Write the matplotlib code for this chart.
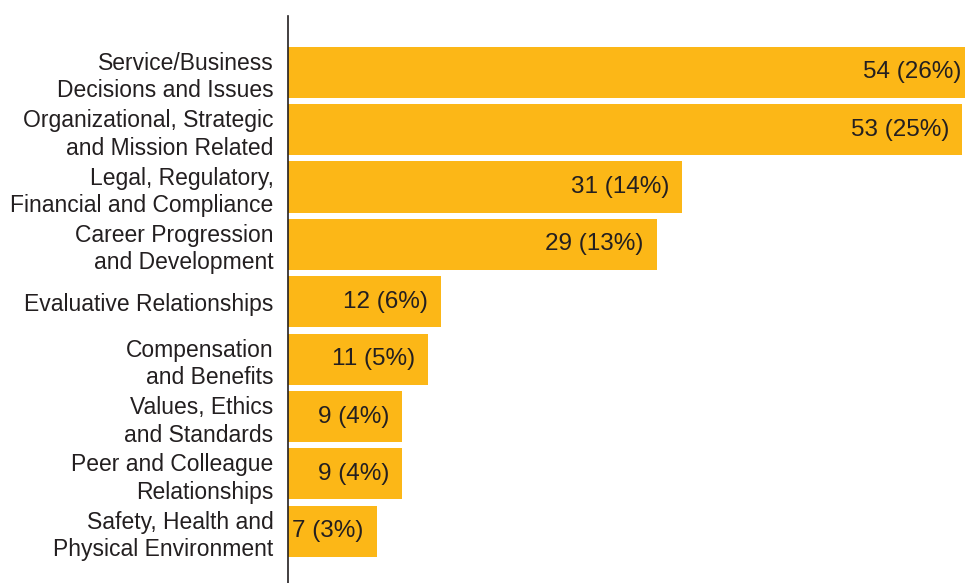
import matplotlib.pyplot as plt

# categories (top to bottom) and counts / shares
categories = [
    "Service/Business\nDecisions and Issues",
    "Organizational, Strategic\nand Mission Related",
    "Legal, Regulatory,\nFinancial and Compliance",
    "Career Progression\nand Development",
    "Evaluative Relationships",
    "Compensation\nand Benefits",
    "Values, Ethics\nand Standards",
    "Peer and Colleague\nRelationships",
    "Safety, Health and\nPhysical Environment",
]
counts = [54, 53, 31, 29, 12, 11, 9, 9, 7]
shares = [26, 25, 14, 13, 6, 5, 4, 4, 3]

bar_color = "#FCB717"
text_color = "#231F20"

plt.rcParams['font.family'] = ['Liberation Sans', 'DejaVu Sans']

fig = plt.figure(figsize=(9.65, 5.83), dpi=100)
ax = fig.add_axes([288 / 965, 0, 1 - 288 / 965, 1 - 16 / 583])

y = list(range(len(categories)))
bars = ax.barh(y, counts, height=0.89, color=bar_color)

for yi, c, s in zip(y, counts, shares):
    ax.annotate(f"{c} ({s}%)", xy=(c, yi), xytext=(-9.5, 0),
                textcoords="offset points", ha="right", va="center",
                fontsize=17.5, color=text_color, annotation_clip=False)

ax.set_xlim(0, 53.22)
ax.set_ylim(8.9, -0.98)

ax.set_yticks(y)
ax.set_yticklabels(categories, fontsize=16.5, color=text_color,
                   linespacing=1.25)
ax.tick_params(axis='y', length=0, pad=10.5)
ax.set_xticks([])

for side in ["top", "right", "bottom"]:
    ax.spines[side].set_visible(False)
ax.spines["left"].set_color("#231F20")
ax.spines["left"].set_linewidth(1.2)

fig.savefig("out.png", dpi=100)
